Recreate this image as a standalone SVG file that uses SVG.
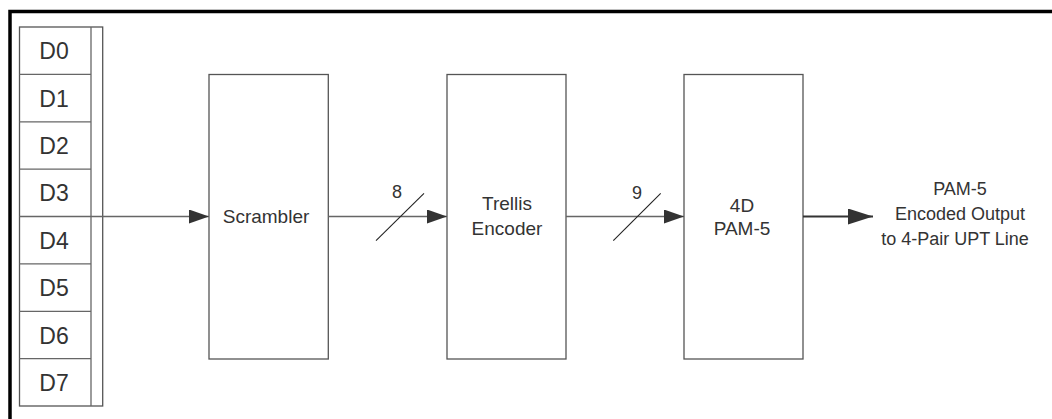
<svg xmlns="http://www.w3.org/2000/svg" width="1052" height="419" viewBox="0 0 1052 419">
<style>
.box{fill:#fff;stroke:#555;stroke-width:1.3}
.ln{stroke:#666;stroke-width:1.3;fill:none}
.t{font-family:"Liberation Sans",Arial,sans-serif;fill:#333;text-anchor:middle}
.d{font-size:23px}
.b{font-size:19px}
.o{font-size:18px}
</style>
<defs>
<marker id="ah" viewBox="0 0 20 14" refX="20" refY="7" markerWidth="20" markerHeight="14" markerUnits="userSpaceOnUse" orient="auto">
<path d="M0,0 L20,7 L0,14 Z" fill="#333"/>
</marker>
<marker id="ah2" viewBox="0 0 25 16" refX="25" refY="8" markerWidth="25" markerHeight="16" markerUnits="userSpaceOnUse" orient="auto">
<path d="M0,0 L25,8 L0,16 Z" fill="#333"/>
</marker>
</defs>
<rect width="1052" height="419" fill="#fff"/>
<path d="M10,419 V11.5 H1052" fill="none" stroke="#000" stroke-width="3.5"/>
<g id="register">
<rect class="box" x="19.5" y="27" width="83.2" height="379"/>
<line class="ln" x1="91" y1="27" x2="91" y2="406"/>
<g class="ln">
<line x1="19.5" y1="74.4" x2="91" y2="74.4"/>
<line x1="19.5" y1="121.8" x2="91" y2="121.8"/>
<line x1="19.5" y1="169.1" x2="91" y2="169.1"/>
<line x1="19.5" y1="216.5" x2="91" y2="216.5"/>
<line x1="19.5" y1="263.9" x2="91" y2="263.9"/>
<line x1="19.5" y1="311.3" x2="91" y2="311.3"/>
<line x1="19.5" y1="358.6" x2="91" y2="358.6"/>
</g>
<text class="t d" x="54" y="59.2">D0</text>
<text class="t d" x="54" y="106.6">D1</text>
<text class="t d" x="54" y="154">D2</text>
<text class="t d" x="54" y="201.3">D3</text>
<text class="t d" x="54" y="248.7">D4</text>
<text class="t d" x="54" y="296.1">D5</text>
<text class="t d" x="54" y="343.5">D6</text>
<text class="t d" x="54" y="390.8">D7</text>
</g>
<g id="scrambler">
<rect class="box" x="209" y="74.5" width="119.3" height="284.5"/>
<text class="t b" x="266" y="223">Scrambler</text>
</g>
<g id="trellis">
<rect class="box" x="447" y="74.5" width="119" height="284.5"/>
<text class="t b" x="507" y="210">Trellis</text>
<text class="t b" x="507" y="235">Encoder</text>
</g>
<g id="pam5">
<rect class="box" x="684" y="74.5" width="119" height="284.5"/>
<text class="t b" x="742" y="211.5">4D</text>
<text class="t b" x="742" y="235">PAM-5</text>
</g>
<g id="output">
<text class="t o" x="960" y="195">PAM-5</text>
<text class="t o" x="960" y="220">Encoded Output</text>
<text class="t o" x="955" y="245">to 4-Pair UPT Line</text>
</g>
<g id="connectors">
<line class="ln" x1="91" y1="216.5" x2="209" y2="216.5" marker-end="url(#ah)"/>
<line class="ln" x1="328.3" y1="216.5" x2="447" y2="216.5" marker-end="url(#ah)"/>
<line x1="376" y1="240.7" x2="424" y2="193.3" stroke="#222" stroke-width="1.1"/>
<text class="t o" x="397" y="198">8</text>
<line class="ln" x1="566" y1="216.5" x2="684" y2="216.5" marker-end="url(#ah)"/>
<line x1="613.3" y1="240.7" x2="660.7" y2="193.3" stroke="#222" stroke-width="1.1"/>
<text class="t o" x="637" y="199">9</text>
<line x1="803" y1="216.5" x2="873" y2="216.5" stroke="#333" stroke-width="2" marker-end="url(#ah2)"/>
</g>
</svg>
